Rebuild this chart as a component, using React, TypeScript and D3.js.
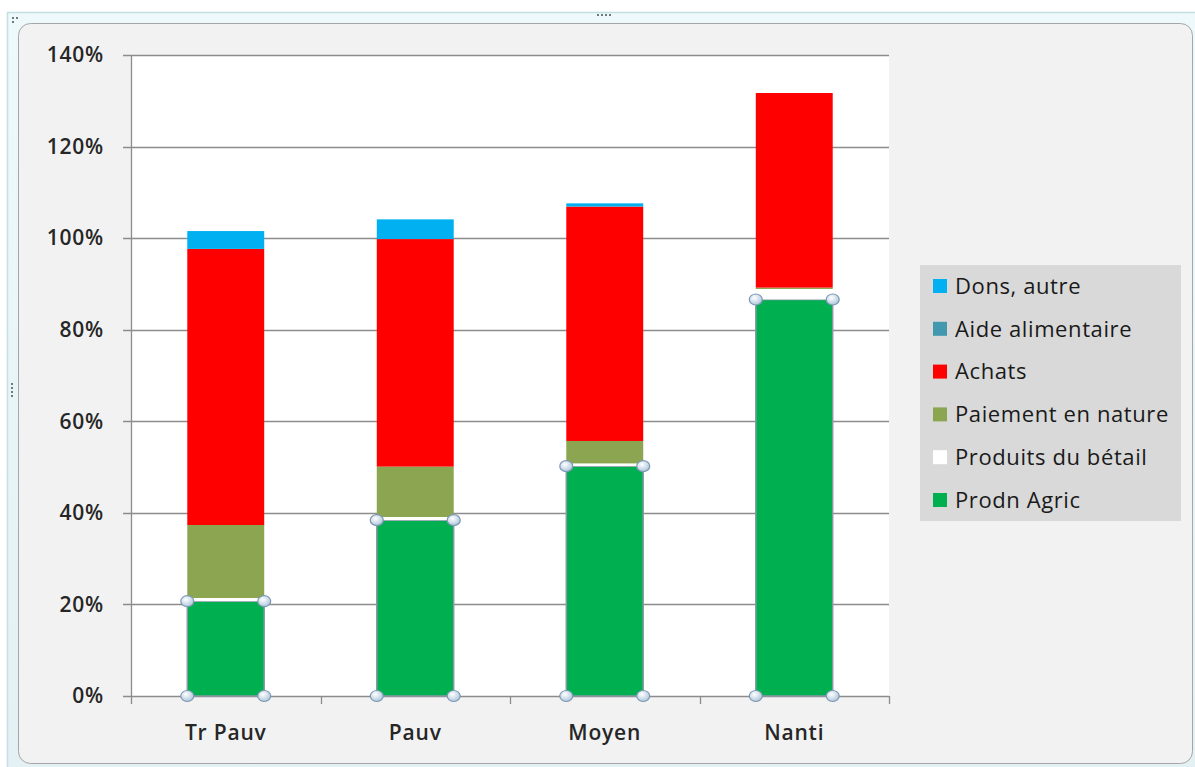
import React from "react";
import * as d3 from "d3";

const categories = ["Tr Pauv", "Pauv", "Moyen", "Nanti"];
const seriesNames = [
  "Prodn Agric",
  "Produits du bétail",
  "Paiement en nature",
  "Achats",
  "Aide alimentaire",
  "Dons, autre",
];
const seriesColors = ["#00b050", "#ffffff", "#8ca550", "#ff0000", "#4198af", "#00b0f0"];
const prodnAgric = [20.7, 38.4, 50.2, 86.6];
const produitsBetail = [0.7, 0.7, 0.6, 2.3];
const paiementNature = [15.95, 11.0, 4.9, 0.3];
const achats = [60.3, 49.7, 51.2, 42.5];
const aideAlimentaire = [0, 0, 0, 0];
const donsAutre = [3.9, 4.3, 0.7, 0];
const yTicks = [0, 20, 40, 60, 80, 100, 120, 140];

const W = 1195;
const H = 767;
const plot = { left: 131, right: 889, top: 55, bottom: 696 };
const FONT = "'Open Sans', 'Noto Sans', sans-serif";

export default function App() {
  const seriesValues = [prodnAgric, produitsBetail, paiementNature, achats, aideAlimentaire, donsAutre];
  const rows = categories.map((c, i) => {
    const r: any = { cat: c };
    seriesNames.forEach((s, j) => (r[s] = seriesValues[j][i]));
    return r;
  });
  const stacked = d3.stack<any>().keys(seriesNames)(rows);

  const x = d3
    .scaleBand<string>()
    .domain(categories)
    .range([plot.left, plot.right])
    .paddingInner(0.594)
    .paddingOuter(0.297);
  const y = d3.scaleLinear().domain([0, 140]).range([plot.bottom, plot.top]);
  const step = x.step();

  const boundaries = d3.range(categories.length + 1).map((i) => plot.left + i * step);

  const legendX = 920;
  const legendY = 265;
  const legendRow = 42.8;

  return (
    <div style={{ position: "absolute", left: 0, top: 0 }}>
      <svg width={W} height={H} style={{ display: "block", background: "#ffffff" }}>
        <defs>
          <linearGradient id="frameGrad" x1="0" y1="0" x2="0" y2="1">
            <stop offset="0" stopColor="#eef9fb" />
            <stop offset="1" stopColor="#e3f1f4" />
          </linearGradient>
          <radialGradient id="handleGrad" cx="0.4" cy="0.35" r="0.7">
            <stop offset="0" stopColor="#ffffff" />
            <stop offset="1" stopColor="#a9c3d9" />
          </radialGradient>
        </defs>
        {/* outer selection frame */}
        <rect x={7.5} y={12.5} width={W} height={H} fill="url(#frameGrad)" stroke="#c3dfe4" strokeWidth={1.5} />
        {/* chart area */}
        <rect x={18.5} y={23.5} width={1174} height={740} rx={12} fill="#f2f2f2" stroke="#a6a6a6" strokeWidth={1} />
        {/* grab dots */}
        {[0, 1, 2, 3].map((i) => (
          <rect key={"td" + i} x={597 + i * 4} y={14} width={2} height={2} fill="#6b7b80" />
        ))}
        {[0, 1, 2, 3].map((i) => (
          <rect key={"ld" + i} x={11} y={383 + i * 4} width={2} height={2} fill="#6b7b80" />
        ))}
        {[0, 1].map((i) => (
          <rect key={"cd" + i} x={12 + i * 4} y={17} width={2} height={2} fill="#6b7b80" />
        ))}
        <rect x={12} y={21} width={2} height={2} fill="#6b7b80" />

        {/* plot area */}
        <rect x={plot.left} y={plot.top} width={plot.right - plot.left} height={plot.bottom - plot.top} fill="#ffffff" />
        {/* gridlines */}
        {yTicks.map((t) => (
          <line
            key={"g" + t}
            x1={plot.left - 8}
            x2={plot.right}
            y1={Math.round(y(t)) + 0.5}
            y2={Math.round(y(t)) + 0.5}
            stroke="#8c8c8c"
            strokeWidth={1.3}
          />
        ))}
        {/* y axis */}
        <line x1={plot.left + 0.5} x2={plot.left + 0.5} y1={plot.top} y2={plot.bottom} stroke="#8c8c8c" strokeWidth={1.3} />
        {/* x tick marks */}
        {boundaries.map((b, i) => (
          <line
            key={"xt" + i}
            x1={Math.round(b) + 0.5}
            x2={Math.round(b) + 0.5}
            y1={plot.bottom}
            y2={plot.bottom + 8}
            stroke="#8c8c8c"
            strokeWidth={1.3}
          />
        ))}
        {/* y tick labels */}
        {yTicks.map((t) => (
          <text
            key={"yl" + t}
            x={104}
            y={y(t)}
            dy="0.35em"
            textAnchor="end"
            fontFamily={FONT}
            fontSize={21}
            fontWeight={600}
            letterSpacing={0.8}
            fill="#262626"
          >
            {t + "%"}
          </text>
        ))}
        {/* bars */}
        {stacked.map((layer, si) => (
          <g key={"s" + si}>
            {layer.map((d, ci) => {
              const h = y(d[0]) - y(d[1]);
              if (h <= 0) return null;
              const isSel = si === 0;
              return (
                <rect
                  key={"b" + ci}
                  x={x(categories[ci])!}
                  y={y(d[1])}
                  width={x.bandwidth()}
                  height={h}
                  fill={seriesColors[si]}
                  stroke={isSel ? "#8a98a6" : "none"}
                  strokeWidth={isSel ? 1.5 : 0}
                />
              );
            })}
          </g>
        ))}
        {/* selection handles on Prodn Agric */}
        {stacked[0].map((d, ci) => {
          const x0 = x(categories[ci])!;
          const x1 = x0 + x.bandwidth();
          const pts = [
            [x0, y(d[1])],
            [x1, y(d[1])],
            [x0, y(d[0])],
            [x1, y(d[0])],
          ];
          return pts.map((p, k) => (
            <ellipse
              key={"h" + ci + "-" + k}
              cx={p[0]}
              cy={p[1]}
              rx={6.5}
              ry={5.5}
              fill="url(#handleGrad)"
              stroke="#7d98b3"
              strokeWidth={1.2}
            />
          ));
        })}
        {/* category labels */}
        {categories.map((c) => (
          <text
            key={"cl" + c}
            x={x(c)! + x.bandwidth() / 2}
            y={733}
            dy="0.35em"
            textAnchor="middle"
            fontFamily={FONT}
            fontSize={21}
            fontWeight={600}
            letterSpacing={0.8}
            fill="#262626"
          >
            {c}
          </text>
        ))}
        {/* legend */}
        <rect x={legendX} y={legendY} width={261} height={256} fill="#d9d9d9" />
        {seriesNames
          .slice()
          .reverse()
          .map((name, i) => {
            const idx = seriesNames.indexOf(name);
            const cy = legendY + 21 + i * legendRow;
            return (
              <g key={"lg" + name}>
                <rect x={933} y={cy - 7} width={14} height={14} fill={seriesColors[idx]} />
                <text
                  x={955}
                  y={cy}
                  dy="0.35em"
                  fontFamily={FONT}
                  fontSize={22}
                  letterSpacing={0.6}
                  fill="#1a1a1a"
                >
                  {name}
                </text>
              </g>
            );
          })}
      </svg>
    </div>
  );
}
